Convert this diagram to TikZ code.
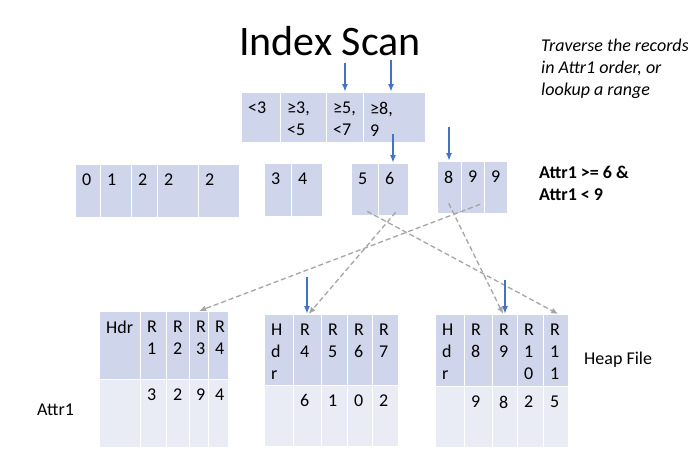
\documentclass[tikz,border=0pt]{standalone}
\usepackage{fontspec}
\setmainfont{Carlito}
\usepackage{tikz}
\usetikzlibrary{arrows.meta}
\definecolor{hdrblue}{HTML}{CFD5EA}
\definecolor{rowblue}{HTML}{E9EBF5}
\definecolor{ptrblue}{HTML}{4472C4}
\definecolor{dashgray}{HTML}{A5A5A5}

\begin{document}
\begin{tikzpicture}[
    x=1pt,y=-1pt,
    >=Latex,
    cell/.style={draw=white, line width=1.3pt, fill=hdrblue, anchor=north west, inner sep=0pt},
    rowcell/.style={cell, fill=rowblue},
    celltext/.style={anchor=north west, inner sep=0pt, xshift=7pt, yshift=-9.5pt, align=left, font={\fontsize{18}{22}\selectfont}},
    note/.style={anchor=north west, inner sep=0pt, align=left, font={\fontsize{18}{22}\selectfont}},
    ptr/.style={-{Latex[length=8pt,width=6pt]}, line width=1.6pt, draw=ptrblue},
    lookup/.style={-{Latex[length=7pt,width=6pt]}, line width=1.3pt, draw=dashgray, dash pattern=on 5pt off 3pt}
]
\fill[white] (0,0) rectangle (688,472);
\useasboundingbox (0,0) rectangle (688,472);

% Title and notes
\node[anchor=base, font={\fontsize{42}{50}\selectfont}] (title) at (330,55) {Index Scan};
\node[note, font={\itshape\fontsize{18}{22}\selectfont}] (hint) at (541,39) {Traverse the records\\in Attr1 order, or\\lookup a range};
\node[note, font={\bfseries\fontsize{18}{22}\selectfont}] (cond) at (539,166) {Attr1 >= 6 \&\\Attr1 < 9};
\node[note] (heap) at (584,352) {Heap File};
\node[note] (attr) at (37,404) {Attr1};

% Root page
\node[cell, minimum width=39pt, minimum height=50pt, label={[celltext]north west:{<3}}] (r1) at (241,92) {};
\node[cell, minimum width=46pt, minimum height=50pt, label={[celltext]north west:{≥3,\\<5}}] (r2) at (280,92) {};
\node[cell, minimum width=37pt, minimum height=50pt, label={[celltext]north west:{≥5,\\<7}}] (r3) at (326,92) {};
\node[cell, minimum width=62pt, minimum height=50pt, label={[celltext]north west:{≥8,\\9}}] (r4) at (363,92) {};

% Leaf pages
\node[cell, minimum width=25pt, minimum height=53pt, label={[celltext]north west:{0}}] (l1a) at (75,164) {};
\node[cell, minimum width=31pt, minimum height=53pt, label={[celltext]north west:{1}}] (l1b) at (100,164) {};
\node[cell, minimum width=26pt, minimum height=53pt, label={[celltext]north west:{2}}] (l1c) at (131,164) {};
\node[cell, minimum width=41pt, minimum height=53pt, label={[celltext]north west:{2}}] (l1d) at (157,164) {};
\node[cell, minimum width=41pt, minimum height=53pt, label={[celltext]north west:{2}}] (l1e) at (198,164) {};

\node[cell, minimum width=27pt, minimum height=53pt, label={[celltext]north west:{3}}] (l2a) at (264,163) {};
\node[cell, minimum width=31pt, minimum height=53pt, label={[celltext]north west:{4}}] (l2b) at (291,163) {};

\node[cell, minimum width=27pt, minimum height=52pt, label={[celltext]north west:{5}}] (l3a) at (351,163) {};
\node[cell, minimum width=30pt, minimum height=52pt, label={[celltext]north west:{6}}] (l3b) at (378,163) {};

\node[cell, minimum width=24pt, minimum height=52pt, label={[celltext]north west:{8}}] (l4a) at (437,161) {};
\node[cell, minimum width=23pt, minimum height=52pt, label={[celltext]north west:{9}}] (l4b) at (461,161) {};
\node[cell, minimum width=23pt, minimum height=52pt, label={[celltext]north west:{9}}] (l4c) at (484,161) {};

% Heap file pages
\node[cell, minimum width=41pt, minimum height=68pt, label={[celltext]north west:{Hdr}}] (h1a) at (99,311) {};
\node[cell, minimum width=26pt, minimum height=68pt, label={[celltext]north west:{R\\1}}] (h1b) at (140,311) {};
\node[cell, minimum width=23pt, minimum height=68pt, label={[celltext]north west:{R\\2}}] (h1c) at (166,311) {};
\node[cell, minimum width=19pt, minimum height=68pt, label={[celltext]north west:{R\\3}}] (h1d) at (189,311) {};
\node[cell, minimum width=20pt, minimum height=68pt, label={[celltext]north west:{R\\4}}] (h1e) at (208,311) {};
\node[rowcell, minimum width=41pt, minimum height=68pt] (v1a) at (99,379) {};
\node[rowcell, minimum width=26pt, minimum height=68pt, label={[celltext]north west:{3}}] (v1b) at (140,379) {};
\node[rowcell, minimum width=23pt, minimum height=68pt, label={[celltext]north west:{2}}] (v1c) at (166,379) {};
\node[rowcell, minimum width=19pt, minimum height=68pt, label={[celltext]north west:{9}}] (v1d) at (189,379) {};
\node[rowcell, minimum width=20pt, minimum height=68pt, label={[celltext]north west:{4}}] (v1e) at (208,379) {};

\node[cell, minimum width=29pt, minimum height=71pt, label={[celltext]north west:{H\\d\\r}}] (h2a) at (264,314) {};
\node[cell, minimum width=28pt, minimum height=71pt, label={[celltext]north west:{R\\4}}] (h2b) at (293,314) {};
\node[cell, minimum width=26pt, minimum height=71pt, label={[celltext]north west:{R\\5}}] (h2c) at (321,314) {};
\node[cell, minimum width=25pt, minimum height=71pt, label={[celltext]north west:{R\\6}}] (h2d) at (347,314) {};
\node[cell, minimum width=26pt, minimum height=71pt, label={[celltext]north west:{R\\7}}] (h2e) at (372,314) {};
\node[rowcell, minimum width=29pt, minimum height=61pt] (v2a) at (264,385) {};
\node[rowcell, minimum width=28pt, minimum height=61pt, label={[celltext]north west:{6}}] (v2b) at (293,385) {};
\node[rowcell, minimum width=26pt, minimum height=61pt, label={[celltext]north west:{1}}] (v2c) at (321,385) {};
\node[rowcell, minimum width=25pt, minimum height=61pt, label={[celltext]north west:{0}}] (v2d) at (347,385) {};
\node[rowcell, minimum width=26pt, minimum height=61pt, label={[celltext]north west:{2}}] (v2e) at (372,385) {};

\node[cell, minimum width=29pt, minimum height=72pt, label={[celltext]north west:{H\\d\\r}}] (h3a) at (435,314) {};
\node[cell, minimum width=28pt, minimum height=72pt, label={[celltext]north west:{R\\8}}] (h3b) at (464,314) {};
\node[cell, minimum width=25pt, minimum height=72pt, label={[celltext]north west:{R\\9}}] (h3c) at (492,314) {};
\node[cell, minimum width=26pt, minimum height=72pt, label={[celltext]north west:{R\\1\\0}}] (h3d) at (517,314) {};
\node[cell, minimum width=25pt, minimum height=72pt, label={[celltext]north west:{R\\1\\1}}] (h3e) at (543,314) {};
\node[rowcell, minimum width=29pt, minimum height=61pt] (v3a) at (435,386) {};
\node[rowcell, minimum width=28pt, minimum height=61pt, label={[celltext]north west:{9}}] (v3b) at (464,386) {};
\node[rowcell, minimum width=25pt, minimum height=61pt, label={[celltext]north west:{8}}] (v3c) at (492,386) {};
\node[rowcell, minimum width=26pt, minimum height=61pt, label={[celltext]north west:{2}}] (v3d) at (517,386) {};
\node[rowcell, minimum width=25pt, minimum height=61pt, label={[celltext]north west:{5}}] (v3e) at (543,386) {};

% Record lookups
\draw[lookup] ([xshift=2pt,yshift=5pt]l3a.south) -- ([xshift=2pt]h3e.north);
\draw[lookup] ([xshift=2pt,yshift=4pt]l3b.south) -- ([xshift=1pt]h2b.north);
\draw[lookup] ([xshift=7pt,yshift=10pt]l4b.south) -- (h1d.north);
\draw[lookup] ([xshift=-1pt,yshift=11pt]l4a.south) -- ([xshift=-2pt]h3c.north);

% Scan pointers
\coordinate (p1) at (345,63);
\coordinate (p2) at (391,60);
\coordinate (p3) at (393,134);
\coordinate (p4) at (449,127);
\coordinate (p5) at (307,277);
\coordinate (p6) at (505,280);
\draw[ptr] (p1) -- (p1 |- r3.north);
\draw[ptr] (p2) -- (p2 |- r4.north);
\draw[ptr] (p3) -- (p3 |- l3b.north);
\draw[ptr] (p4) -- (p4 |- l4a.north);
\draw[ptr] (p5) -- (p5 |- h2b.north);
\draw[ptr] (p6) -- (p6 |- h3c.north);

\end{tikzpicture}
\end{document}
